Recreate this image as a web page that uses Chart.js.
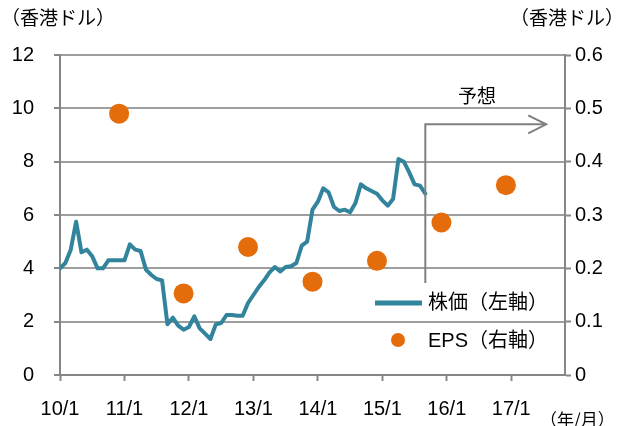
<!DOCTYPE html>
<html>
<head>
<meta charset="utf-8">
<script src="https://cdn.jsdelivr.net/npm/chart.js@4.4.1/dist/chart.umd.min.js"></script>
<style>
html,body{margin:0;padding:0;background:#fff;}
#wrap{width:625px;height:426px;position:relative;}
</style>
</head>
<body>
<div id="wrap"><canvas id="c" width="625" height="426"></canvas></div>
<script>
// ---- data ----
const priceStart = '10/1';
const priceValues = [
  4.0, 4.2, 4.7, 5.75, 4.6, 4.7, 4.45, 4.0, 4.0, 4.3, 4.3, 4.3,
  4.3, 4.9, 4.7, 4.65, 3.95, 3.75, 3.6, 3.55, 1.9, 2.15, 1.85, 1.7,
  1.8, 2.2, 1.75, 1.55, 1.35, 1.9, 1.95, 2.25, 2.25, 2.22, 2.22, 2.7,
  3.0, 3.3, 3.55, 3.85, 4.05, 3.88, 4.05, 4.08, 4.2, 4.85, 5.0, 6.2,
  6.5, 7.0, 6.85, 6.3, 6.15, 6.2, 6.1, 6.45, 7.15, 7.0, 6.9, 6.8,
  6.55, 6.35, 6.6, 8.1, 8.0, 7.6, 7.15, 7.1, 6.8
];
const epsLabels = ['10/12', '11/12', '12/12', '13/12', '14/12', '15/12', '16/12'];
const epsValues = [0.49, 0.153, 0.24, 0.175, 0.214, 0.286, 0.356];
const xTickLabels = ['10/1', '11/1', '12/1', '13/1', '14/1', '15/1', '16/1', '17/1'];
const leftTicks = [0, 2, 4, 6, 8, 10, 12];
const rightTicks = [0, 0.1, 0.2, 0.3, 0.4, 0.5, 0.6];
const seriesNames = ['株価（左軸）', 'EPS（右軸）'];
const unitLeft = '（香港ドル）';
const unitRight = '（香港ドル）';
const unitX = '（年/月）';
const forecastText = '予想';
const forecastStart = '15/9';
const axisEnd = '17/11';

// ---- helpers ----
function monthIndex(lbl) {
  const [y, m] = lbl.split('/').map(Number);
  return (y - 10) * 12 + (m - 1);
}
const p0 = monthIndex(priceStart);
const priceData = priceValues.map((v, i) => ({ x: p0 + i, y: v }));
const epsData = epsValues.map((v, i) => ({ x: monthIndex(epsLabels[i]), y: v }));
const xTickPositions = xTickLabels.map(monthIndex);

const NUM_FONT = '"Liberation Sans", Arial, "Noto Sans CJK JP", sans-serif';
const JP_FONT = '"Liberation Sans", "Noto Sans CJK JP", sans-serif';
const LINE_COLOR = '#31849B';
const DOT_COLOR = '#E46C0A';
const AXIS_COLOR = '#868686';
const GRID_COLOR = '#9e9e9e';

const overlay = {
  id: 'overlay',
  afterDatasetsDraw(chart) {
    const ctx = chart.ctx;
    const xs = chart.scales.x, ys = chart.scales.y;
    // forecast arrow
    const fx = xs.getPixelForValue(monthIndex(forecastStart));
    const yTop = ys.getPixelForValue(9.4);
    const yBot = ys.getPixelForValue(3.45);
    const xEnd = xs.getPixelForValue(monthIndex(forecastStart) + 22.5);
    ctx.save();
    ctx.strokeStyle = '#808080';
    ctx.lineWidth = 2;
    ctx.beginPath();
    ctx.moveTo(fx, yBot);
    ctx.lineTo(fx, yTop);
    ctx.lineTo(xEnd, yTop);
    ctx.stroke();
    ctx.beginPath();
    ctx.moveTo(xEnd - 18, yTop - 9);
    ctx.lineTo(xEnd, yTop);
    ctx.lineTo(xEnd - 18, yTop + 9);
    ctx.stroke();
    ctx.fillStyle = '#000';
    ctx.font = '19px "Noto Sans CJK JP", sans-serif';
    ctx.textAlign = 'center';
    ctx.textBaseline = 'middle';
    ctx.fillText(forecastText, xs.getPixelForValue(monthIndex(forecastStart) + 9.6), yTop - 29);
    ctx.restore();
  },
  afterDraw(chart) {
    const ctx = chart.ctx;
    const ca = chart.chartArea;
    ctx.save();
    ctx.fillStyle = '#000';
    ctx.textBaseline = 'middle';
    ctx.font = '19px "Noto Sans CJK JP", sans-serif';
    ctx.textAlign = 'left';
    ctx.fillText(unitLeft, 1, 18);
    ctx.textAlign = 'right';
    ctx.fillText(unitRight, 624, 18);
    ctx.font = '17px "Noto Sans CJK JP", sans-serif';
    ctx.textAlign = 'left';
    ctx.fillText(unitX, 540, 420);
    // legend
    const lx = ca.right - 190;
    ctx.strokeStyle = LINE_COLOR;
    ctx.lineWidth = 5;
    ctx.beginPath();
    ctx.moveTo(lx, 303);
    ctx.lineTo(lx + 47, 303);
    ctx.stroke();
    ctx.fillStyle = DOT_COLOR;
    ctx.beginPath();
    ctx.arc(lx + 23, 340, 7, 0, Math.PI * 2);
    ctx.fill();
    ctx.fillStyle = '#000';
    ctx.font = '20px ' + JP_FONT;
    ctx.textAlign = 'left';
    ctx.fillText(seriesNames[0], lx + 53, 303);
    ctx.fillText(seriesNames[1], lx + 53, 341);
    ctx.restore();
  }
};

new Chart(document.getElementById('c'), {
  type: 'scatter',
  data: {
    datasets: [
      {
        label: seriesNames[0],
        data: priceData,
        showLine: true,
        borderColor: LINE_COLOR,
        backgroundColor: LINE_COLOR,
        borderWidth: 4,
        pointRadius: 0,
        tension: 0,
        yAxisID: 'y',
        borderJoinStyle: 'round',
        borderCapStyle: 'round'
      },
      {
        label: seriesNames[1],
        data: epsData,
        showLine: false,
        backgroundColor: DOT_COLOR,
        borderColor: DOT_COLOR,
        borderWidth: 0,
        pointRadius: 10,
        yAxisID: 'y2'
      }
    ]
  },
  options: {
    responsive: false,
    animation: false,
    layout: { padding: { top: 55, left: 0, right: 0, bottom: 0 } },
    plugins: { legend: { display: false }, tooltip: { enabled: false } },
    scales: {
      x: {
        type: 'linear',
        min: 0,
        max: monthIndex(axisEnd),
        afterBuildTicks: s => { s.ticks = xTickPositions.map(v => ({ value: v })); },
        afterFit: s => { s.height = 51; },
        ticks: {
          callback: v => xTickLabels[xTickPositions.indexOf(v)],
          color: '#000',
          font: { family: NUM_FONT, size: 20 },
          padding: 16,
          maxRotation: 0,
          autoSkip: false
        },
        grid: { drawOnChartArea: false, drawTicks: true, tickLength: 6, tickColor: AXIS_COLOR, tickWidth: 2 },
        border: { display: true, color: AXIS_COLOR, width: 2 }
      },
      y: {
        position: 'left',
        min: 0,
        max: 12,
        afterBuildTicks: s => { s.ticks = leftTicks.map(v => ({ value: v })); },
        afterFit: s => { s.width = 60; },
        ticks: {
          color: '#000',
          font: { family: NUM_FONT, size: 20 },
          padding: 20
        },
        grid: { color: GRID_COLOR, lineWidth: 2, drawTicks: true, tickLength: 6, tickColor: AXIS_COLOR, tickWidth: 2 },
        border: { display: true, color: AXIS_COLOR, width: 2 }
      },
      y2: {
        position: 'right',
        min: 0,
        max: 0.6,
        afterBuildTicks: s => { s.ticks = rightTicks.map(v => ({ value: v })); },
        afterFit: s => { s.width = 60; },
        ticks: {
          color: '#000',
          font: { family: NUM_FONT, size: 20 },
          padding: 4,
          callback: v => (v === 0 ? '0' : v.toFixed(1))
        },
        grid: { drawOnChartArea: false, drawTicks: true, tickLength: 6, tickColor: AXIS_COLOR, tickWidth: 2 },
        border: { display: true, color: AXIS_COLOR, width: 2 }
      }
    }
  },
  plugins: [overlay]
});
</script>
</body>
</html>
